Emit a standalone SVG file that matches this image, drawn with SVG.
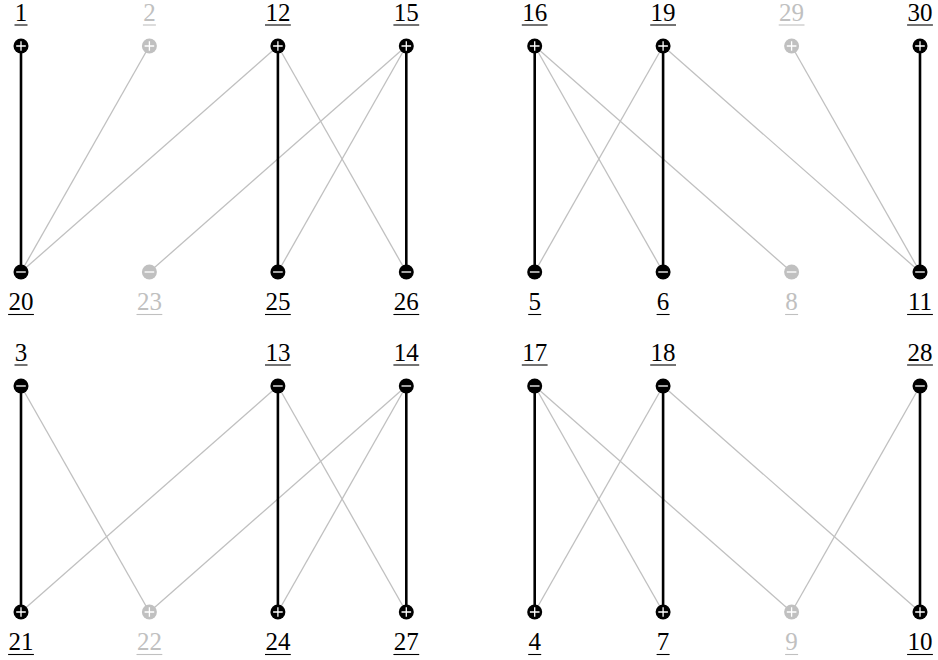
<svg xmlns="http://www.w3.org/2000/svg" width="938" height="660" viewBox="0 0 938 660" font-family="Liberation Serif, DejaVu Serif, serif" font-size="25">
<style>
.bk{stroke:#000;stroke-width:2.6;fill:none}
.gy{stroke:#c0c0c0;stroke-width:1.3;fill:none}
.nb{fill:#000}
.ng{fill:#c0c0c0}
.sg{stroke:#fff;stroke-width:1.3;fill:none}
text{text-anchor:middle}
.lb{fill:#000}
.lg{fill:#c0c0c0}
.ub{stroke:#000;stroke-width:1.1}
.ug{stroke:#c0c0c0;stroke-width:1.1}
</style>
<rect width="938" height="660" fill="#fff"/>
<g id="connectors">
<line class="gy" x1="149.4" y1="46" x2="21" y2="272"/>
<line class="gy" x1="277.9" y1="46" x2="21" y2="272"/>
<line class="gy" x1="277.9" y1="46" x2="406.3" y2="272"/>
<line class="gy" x1="406.3" y1="46" x2="149.4" y2="272"/>
<line class="gy" x1="406.3" y1="46" x2="277.9" y2="272"/>
<line class="bk" x1="21" y1="46" x2="21" y2="272"/>
<line class="bk" x1="277.9" y1="46" x2="277.9" y2="272"/>
<line class="bk" x1="406.3" y1="46" x2="406.3" y2="272"/>
<line class="gy" x1="534.7" y1="46" x2="663.1" y2="272"/>
<line class="gy" x1="534.7" y1="46" x2="791.6" y2="272"/>
<line class="gy" x1="663.1" y1="46" x2="534.7" y2="272"/>
<line class="gy" x1="663.1" y1="46" x2="920" y2="272"/>
<line class="gy" x1="791.6" y1="46" x2="920" y2="272"/>
<line class="bk" x1="534.7" y1="46" x2="534.7" y2="272"/>
<line class="bk" x1="663.1" y1="46" x2="663.1" y2="272"/>
<line class="bk" x1="920" y1="46" x2="920" y2="272"/>
<line class="gy" x1="21" y1="386" x2="149.4" y2="612"/>
<line class="gy" x1="277.9" y1="386" x2="21" y2="612"/>
<line class="gy" x1="277.9" y1="386" x2="406.3" y2="612"/>
<line class="gy" x1="406.3" y1="386" x2="149.4" y2="612"/>
<line class="gy" x1="406.3" y1="386" x2="277.9" y2="612"/>
<line class="bk" x1="21" y1="386" x2="21" y2="612"/>
<line class="bk" x1="277.9" y1="386" x2="277.9" y2="612"/>
<line class="bk" x1="406.3" y1="386" x2="406.3" y2="612"/>
<line class="gy" x1="534.7" y1="386" x2="663.1" y2="612"/>
<line class="gy" x1="534.7" y1="386" x2="791.6" y2="612"/>
<line class="gy" x1="663.1" y1="386" x2="534.7" y2="612"/>
<line class="gy" x1="663.1" y1="386" x2="920" y2="612"/>
<line class="gy" x1="920" y1="386" x2="791.6" y2="612"/>
<line class="bk" x1="534.7" y1="386" x2="534.7" y2="612"/>
<line class="bk" x1="663.1" y1="386" x2="663.1" y2="612"/>
<line class="bk" x1="920" y1="386" x2="920" y2="612"/>
</g>
<defs>
<g id="pb"><circle r="7.5" class="nb"/><path class="sg" d="M-4.8 0H4.8M0 -4.8V4.8"/></g>
<g id="pg"><circle r="7.5" class="ng"/><path class="sg" d="M-4.8 0H4.8M0 -4.8V4.8"/></g>
<g id="mb"><circle r="7.5" class="nb"/><path class="sg" d="M-4.8 0H4.8"/></g>
<g id="mg"><circle r="7.5" class="ng"/><path class="sg" d="M-4.8 0H4.8"/></g>
</defs>
<g id="n1"><use href="#pb" x="21" y="46"/><text class="lb" x="21" y="21">1</text><line class="ub" x1="14.5" y1="25" x2="27.5" y2="25"/></g>
<g id="n2"><use href="#pg" x="149.4" y="46"/><text class="lg" x="149.4" y="21">2</text><line class="ug" x1="142.9" y1="25" x2="155.9" y2="25"/></g>
<g id="n12"><use href="#pb" x="277.9" y="46"/><text class="lb" x="277.9" y="21">12</text><line class="ub" x1="265" y1="25" x2="290.8" y2="25"/></g>
<g id="n15"><use href="#pb" x="406.3" y="46"/><text class="lb" x="406.3" y="21">15</text><line class="ub" x1="393.4" y1="25" x2="419.2" y2="25"/></g>
<g id="n16"><use href="#pb" x="534.7" y="46"/><text class="lb" x="534.7" y="21">16</text><line class="ub" x1="521.8" y1="25" x2="547.6" y2="25"/></g>
<g id="n19"><use href="#pb" x="663.1" y="46"/><text class="lb" x="663.1" y="21">19</text><line class="ub" x1="650.2" y1="25" x2="676" y2="25"/></g>
<g id="n29"><use href="#pg" x="791.6" y="46"/><text class="lg" x="791.6" y="21">29</text><line class="ug" x1="778.7" y1="25" x2="804.5" y2="25"/></g>
<g id="n30"><use href="#pb" x="920" y="46"/><text class="lb" x="920" y="21">30</text><line class="ub" x1="907.1" y1="25" x2="932.9" y2="25"/></g>
<g id="n20"><use href="#mb" x="21" y="272"/><text class="lb" x="21" y="310">20</text><line class="ub" x1="8.1" y1="314.5" x2="33.9" y2="314.5"/></g>
<g id="n23"><use href="#mg" x="149.4" y="272"/><text class="lg" x="149.4" y="310">23</text><line class="ug" x1="136.5" y1="314.5" x2="162.3" y2="314.5"/></g>
<g id="n25"><use href="#mb" x="277.9" y="272"/><text class="lb" x="277.9" y="310">25</text><line class="ub" x1="265" y1="314.5" x2="290.8" y2="314.5"/></g>
<g id="n26"><use href="#mb" x="406.3" y="272"/><text class="lb" x="406.3" y="310">26</text><line class="ub" x1="393.4" y1="314.5" x2="419.2" y2="314.5"/></g>
<g id="n5"><use href="#mb" x="534.7" y="272"/><text class="lb" x="534.7" y="310">5</text><line class="ub" x1="528.2" y1="314.5" x2="541.2" y2="314.5"/></g>
<g id="n6"><use href="#mb" x="663.1" y="272"/><text class="lb" x="663.1" y="310">6</text><line class="ub" x1="656.6" y1="314.5" x2="669.6" y2="314.5"/></g>
<g id="n8"><use href="#mg" x="791.6" y="272"/><text class="lg" x="791.6" y="310">8</text><line class="ug" x1="785.1" y1="314.5" x2="798.1" y2="314.5"/></g>
<g id="n11"><use href="#mb" x="920" y="272"/><text class="lb" x="920" y="310">11</text><line class="ub" x1="907.1" y1="314.5" x2="932.9" y2="314.5"/></g>
<g id="n3"><use href="#mb" x="21" y="386"/><text class="lb" x="21" y="361">3</text><line class="ub" x1="14.5" y1="365" x2="27.5" y2="365"/></g>
<g id="n13"><use href="#mb" x="277.9" y="386"/><text class="lb" x="277.9" y="361">13</text><line class="ub" x1="265" y1="365" x2="290.8" y2="365"/></g>
<g id="n14"><use href="#mb" x="406.3" y="386"/><text class="lb" x="406.3" y="361">14</text><line class="ub" x1="393.4" y1="365" x2="419.2" y2="365"/></g>
<g id="n17"><use href="#mb" x="534.7" y="386"/><text class="lb" x="534.7" y="361">17</text><line class="ub" x1="521.8" y1="365" x2="547.6" y2="365"/></g>
<g id="n18"><use href="#mb" x="663.1" y="386"/><text class="lb" x="663.1" y="361">18</text><line class="ub" x1="650.2" y1="365" x2="676" y2="365"/></g>
<g id="n28"><use href="#mb" x="920" y="386"/><text class="lb" x="920" y="361">28</text><line class="ub" x1="907.1" y1="365" x2="932.9" y2="365"/></g>
<g id="n21"><use href="#pb" x="21" y="612"/><text class="lb" x="21" y="650">21</text><line class="ub" x1="8.1" y1="654.5" x2="33.9" y2="654.5"/></g>
<g id="n22"><use href="#pg" x="149.4" y="612"/><text class="lg" x="149.4" y="650">22</text><line class="ug" x1="136.5" y1="654.5" x2="162.3" y2="654.5"/></g>
<g id="n24"><use href="#pb" x="277.9" y="612"/><text class="lb" x="277.9" y="650">24</text><line class="ub" x1="265" y1="654.5" x2="290.8" y2="654.5"/></g>
<g id="n27"><use href="#pb" x="406.3" y="612"/><text class="lb" x="406.3" y="650">27</text><line class="ub" x1="393.4" y1="654.5" x2="419.2" y2="654.5"/></g>
<g id="n4"><use href="#pb" x="534.7" y="612"/><text class="lb" x="534.7" y="650">4</text><line class="ub" x1="528.2" y1="654.5" x2="541.2" y2="654.5"/></g>
<g id="n7"><use href="#pb" x="663.1" y="612"/><text class="lb" x="663.1" y="650">7</text><line class="ub" x1="656.6" y1="654.5" x2="669.6" y2="654.5"/></g>
<g id="n9"><use href="#pg" x="791.6" y="612"/><text class="lg" x="791.6" y="650">9</text><line class="ug" x1="785.1" y1="654.5" x2="798.1" y2="654.5"/></g>
<g id="n10"><use href="#pb" x="920" y="612"/><text class="lb" x="920" y="650">10</text><line class="ub" x1="907.1" y1="654.5" x2="932.9" y2="654.5"/></g>
</svg>
